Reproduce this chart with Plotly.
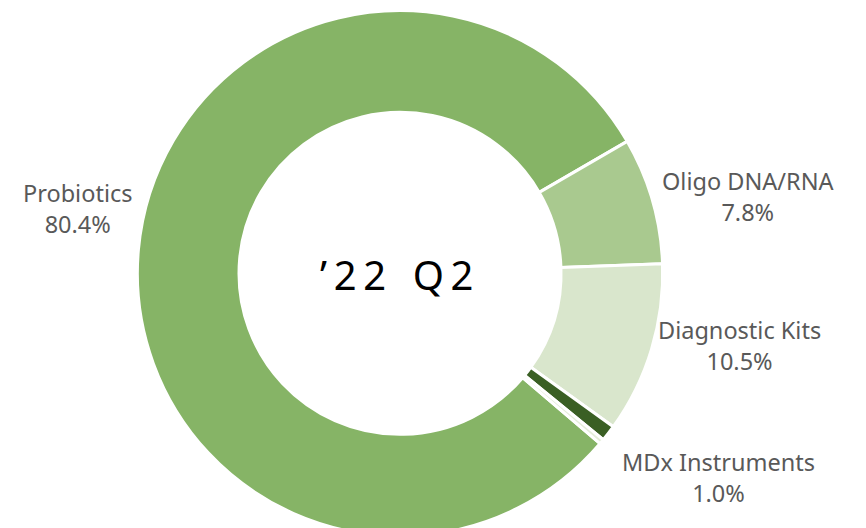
import plotly.graph_objects as go

labels = ["Probiotics", "Oligo DNA/RNA", "Diagnostic Kits", "MDx Instruments", "Other"]
values = [80.4, 7.8, 10.5, 1.0, 0.3]
colors = ["#86B466", "#A9C98F", "#D9E6CC", "#3A5F24", "#E4EDD9"]
center_text = "’\u20092\u20092\u2002\u2009Q\u20092"

fig = go.Figure(
    go.Pie(
        labels=labels,
        values=values,
        sort=False,
        direction="clockwise",
        rotation=130.4,
        hole=0.613,
        marker=dict(colors=colors, line=dict(color="white", width=3)),
        textinfo="none",
        hoverinfo="label+percent",
        domain=dict(x=[0.1467, 0.7587], y=[0.0, 0.995]),
        showlegend=False,
    )
)

label_font = dict(family="Noto Sans, Open Sans, sans-serif", size=23.5, color="#595959")
# 외부 라벨 위치 (paper 좌표)
label_pos = {
    "Probiotics": (70, 201),
    "Oligo DNA/RNA": (740, 189),
    "Diagnostic Kits": (731, 337),
    "MDx Instruments": (710, 469),
}
for lab, val in zip(labels, values):
    if lab not in label_pos:
        continue
    px, py = label_pos[lab]
    fig.add_annotation(
        x=px / 866,
        y=1 - py / 528,
        xref="paper",
        yref="paper",
        xanchor="center",
        yanchor="middle",
        text=f"{lab}<br>{val:.1f}%",
        showarrow=False,
        font=label_font,
        align="center",
    )

fig.add_annotation(
    x=388 / 866,
    y=1 - 266 / 528,
    xref="paper",
    yref="paper",
    xanchor="center",
    yanchor="middle",
    text=center_text,
    showarrow=False,
    font=dict(family="Noto Sans, Open Sans, sans-serif", size=40, color="black"),
)

fig.update_layout(
    width=866,
    height=528,
    margin=dict(l=0, r=0, t=0, b=0),
    paper_bgcolor="white",
    plot_bgcolor="white",
)

fig.write_html("out.html")
